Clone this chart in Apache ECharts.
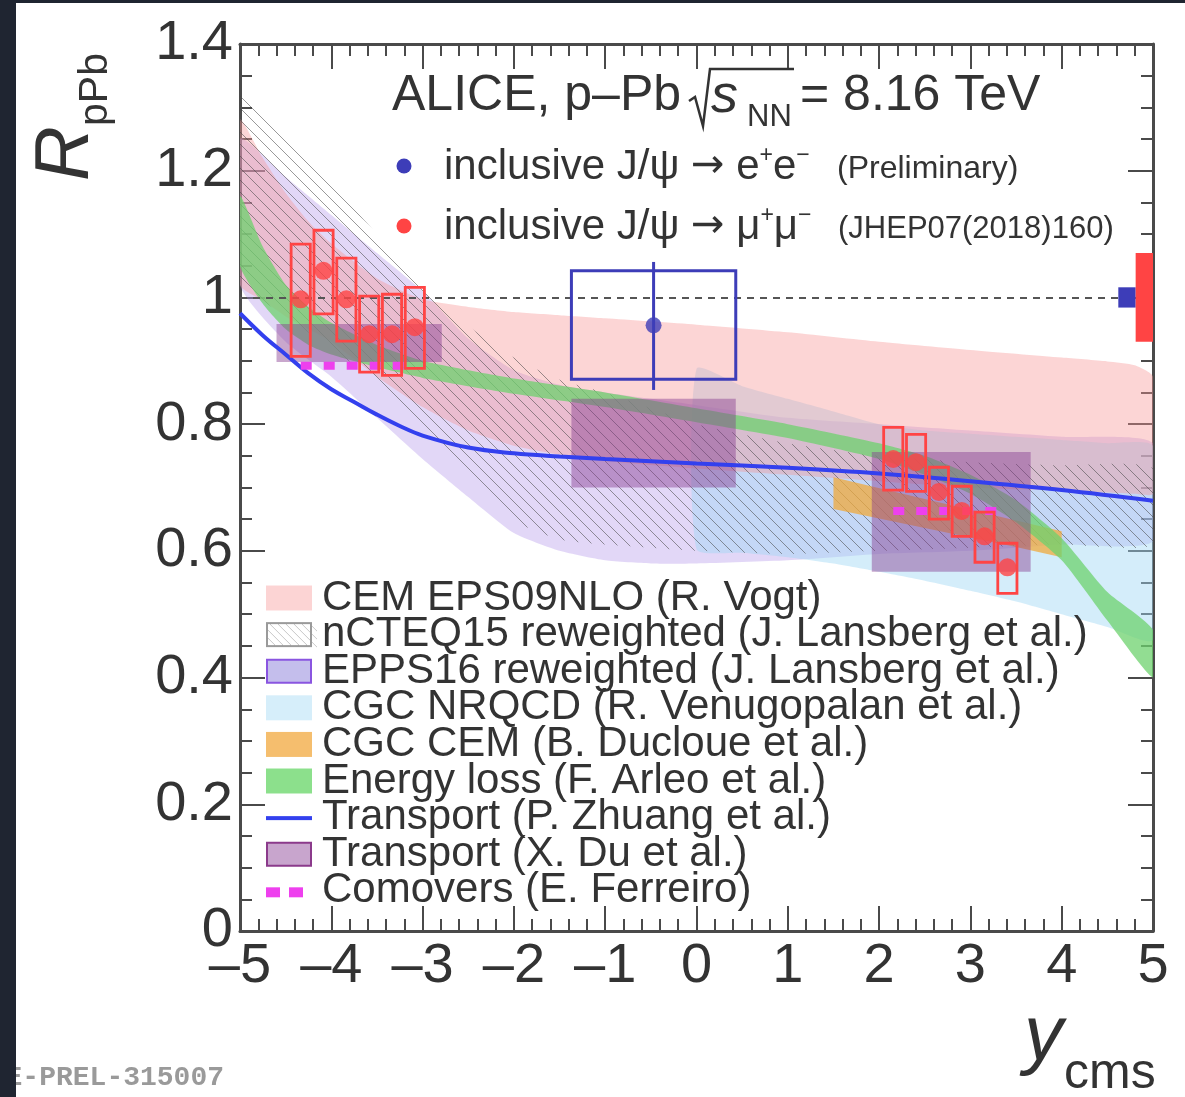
<!DOCTYPE html>
<html><head><meta charset="utf-8">
<script src="https://cdn.jsdelivr.net/npm/echarts@6/dist/echarts.min.js"></script>
<style>html,body{margin:0;padding:0;background:#fff}#c{width:1185px;height:1097px}</style>
</head><body><div id="c"></div>
<script>
// ---------------- DATA ----------------
// inclusive J/psi -> mu+mu- (JHEP07(2018)160)
const muBwdX     = [-4.335, -4.085, -3.835, -3.585, -3.335, -3.085];
const muBwdY     = [0.997, 1.042, 0.997, 0.942, 0.942, 0.953];
const muBwdSysLo = [0.907, 0.974, 0.931, 0.882, 0.877, 0.888];
const muBwdSysHi = [1.084, 1.106, 1.062, 1.002, 1.005, 1.016];
const muFwdX     = [2.155, 2.405, 2.655, 2.905, 3.155, 3.405];
const muFwdY     = [0.745, 0.740, 0.693, 0.663, 0.623, 0.574];
const muFwdSysLo = [0.696, 0.694, 0.650, 0.623, 0.582, 0.533];
const muFwdSysHi = [0.795, 0.784, 0.732, 0.702, 0.661, 0.612];
const muBoxHalfWidth = 0.105;
// inclusive J/psi -> e+e- (Preliminary)
const eeX = [-0.47];
const eeY = [0.956];
const eeStatLo = [0.854];
const eeStatHi = [1.056];
const eeSysLo = [0.871];
const eeSysHi = [1.042];
const eeBinLo = [-1.37];
const eeBinHi = [0.43];
// global uncertainties (boxes at unity): e+e-, mu+mu-
const globX0 = [4.62, 4.81];
const globX1 = [4.81, 5.0];
const globLo = [0.984, 0.930];
const globHi = [1.016, 1.070];

// CEM EPS09NLO (R. Vogt)
const cemX  = [-5, -4.75, -4.5, -4.25, -4, -3.5, -3, -2.5, -2, -1.5, -1, 0, 1, 2, 3, 4, 4.5, 4.8, 5];
const cemHi = [1.28, 1.22, 1.165, 1.12, 1.085, 1.03, 0.997, 0.985, 0.977, 0.972, 0.967, 0.957, 0.945, 0.93, 0.917, 0.905, 0.899, 0.893, 0.875];
const cemLo = [1.02, 0.995, 0.97, 0.95, 0.93, 0.875, 0.827, 0.79, 0.766, 0.752, 0.742, 0.73, 0.72, 0.71, 0.70, 0.695, 0.692, 0.69, 0.69];
// nCTEQ15 reweighted
const ncX  = [-5, -4.5, -4, -3.5, -3, -2.5, -2, -1.5, -1, -0.5, 0, 1, 2, 3, 4, 5];
const ncHi = [1.33, 1.25, 1.18, 1.10, 1.02, 0.955, 0.905, 0.87, 0.85, 0.825, 0.80, 0.77, 0.75, 0.74, 0.735, 0.73];
const ncLo = [1.03, 0.97, 0.92, 0.865, 0.79, 0.72, 0.648, 0.618, 0.61, 0.605, 0.60, 0.595, 0.60, 0.605, 0.61, 0.61];
// EPPS16 reweighted
const epX  = [-5, -4.5, -4, -3.5, -3, -2.5, -2, -1.5, -1, -0.5, 0, 1, 2, 3, 4, 5];
const epHi = [1.25, 1.19, 1.13, 1.07, 1.01, 0.935, 0.885, 0.862, 0.85, 0.84, 0.83, 0.81, 0.80, 0.79, 0.78, 0.77];
const epLo = [1.02, 0.93, 0.875, 0.81, 0.745, 0.685, 0.628, 0.60, 0.585, 0.58, 0.58, 0.585, 0.595, 0.60, 0.61, 0.615];
// CGC NRQCD
const cgX  = [0, 0.5, 1, 1.5, 2, 2.5, 3, 3.5, 4, 4.5, 5];
const cgHi = [0.887, 0.86, 0.84, 0.82, 0.80, 0.79, 0.785, 0.78, 0.775, 0.77, 0.765];
const cgLo = [0.603, 0.597, 0.59, 0.58, 0.567, 0.553, 0.537, 0.52, 0.50, 0.48, 0.46];
// CGC CEM
const ccX  = [1.5, 2.5, 3.5, 4.0];
const ccHi = [0.716, 0.682, 0.648, 0.631];
const ccLo = [0.666, 0.636, 0.606, 0.590];
// Energy loss
const elX  = [-5, -4.75, -4.5, -4.25, -4, -3.5, -3, -2.5, -2, -1, 0, 1, 2, 2.5, 3, 3.5, 4, 4.5, 5];
const elHi = [1.16, 1.08, 1.02, 0.985, 0.96, 0.925, 0.90, 0.885, 0.872, 0.85, 0.825, 0.80, 0.77, 0.75, 0.72, 0.68, 0.62, 0.535, 0.475];
const elLo = [1.05, 0.99, 0.95, 0.925, 0.91, 0.89, 0.873, 0.86, 0.848, 0.827, 0.803, 0.778, 0.745, 0.72, 0.69, 0.645, 0.585, 0.49, 0.40];
// Transport (P. Zhuang)
const zhX = [-5, -4.75, -4.5, -4.25, -4, -3.75, -3.5, -3.25, -3, -2.5, -2, -1.5, -1, 0, 1, 2, 3, 4, 5];
const zhY = [0.975, 0.94, 0.91, 0.88, 0.855, 0.835, 0.815, 0.797, 0.782, 0.763, 0.754, 0.749, 0.745, 0.738, 0.731, 0.722, 0.71, 0.696, 0.679];
// Transport (X. Du)
const duX0 = [-4.6, -1.37, 1.92];
const duX1 = [-2.79, 0.43, 3.66];
const duLo = [0.898, 0.70, 0.567];
const duHi = [0.958, 0.84, 0.756];
// Comovers (E. Ferreiro)
const coBwdY = [0.892, 0.892, 0.892, 0.892, 0.892, 0.892];
const coFwdY = [0.663, 0.663, 0.663, 0.663, 0.663, 0.663];

// ---------------- STYLE ----------------
const FONT = '"Liberation Sans", Arial, Helvetica, sans-serif';
const TXT = '#333333';
const AX = '#4a4a4a';
const C = {
  cem: 'rgba(248,150,150,0.40)',
  ep: 'rgba(180,150,235,0.38)',
  cg: 'rgba(160,215,245,0.45)',
  cc: 'rgba(240,170,60,0.75)',
  el: 'rgba(110,210,110,0.75)',
  du: 'rgba(135,60,145,0.45)',
  zh: '#3340ee',
  co: '#ee40ee',
  red: '#ff4444',
  blue: '#3d3db8'
};
const NAMES = ['CEM EPS09NLO (R. Vogt)', 'nCTEQ15 reweighted (J. Lansberg et al.)', 'EPPS16 reweighted (J. Lansberg et al.)',
  'CGC NRQCD (R. Venugopalan et al.)', 'CGC CEM (B. Ducloue et al.)', 'Energy loss (F. Arleo et al.)',
  'Transport (P. Zhuang et al.)', 'Transport (X. Du et al.)', 'Comovers (E. Ferreiro)'];

function hatchCanvas() {
  const s = 12;
  const c = document.createElement('canvas'); c.width = s; c.height = s;
  const g = c.getContext('2d');
  g.strokeStyle = 'rgba(70,70,70,0.55)'; g.lineWidth = 1;
  g.beginPath(); g.moveTo(-1, -1); g.lineTo(s + 1, s + 1); g.moveTo(-1, s - 1); g.lineTo(1, s + 1); g.moveTo(s - 1, -1); g.lineTo(s + 1, 1); g.stroke();
  return c;
}
function icon(draw) {
  const c = document.createElement('canvas'); c.width = 51; c.height = 27;
  const g = c.getContext('2d'); draw(g); return 'image://' + c.toDataURL();
}
const icons = [
  icon(g => { g.fillStyle = 'rgb(252,212,212)'; g.fillRect(0, 1, 46, 25); }),
  icon(g => { g.fillStyle = '#fff'; g.fillRect(0, 1, 46, 25); g.strokeStyle = '#c8c8c8'; g.lineWidth = 1;
    for (let k = -30; k < 50; k += 8) { g.beginPath(); g.moveTo(k, 1); g.lineTo(k + 25, 26); g.stroke(); }
    g.strokeStyle = '#9a9a9a'; g.lineWidth = 2; g.strokeRect(1, 2, 44, 23); }),
  icon(g => { g.fillStyle = 'rgb(196,190,236)'; g.fillRect(0, 1, 46, 25); g.strokeStyle = '#8a55e0'; g.lineWidth = 2; g.strokeRect(1, 2, 44, 23); }),
  icon(g => { g.fillStyle = 'rgb(214,238,250)'; g.fillRect(0, 1, 46, 25); }),
  icon(g => { g.fillStyle = 'rgb(245,190,110)'; g.fillRect(0, 1, 46, 25); }),
  icon(g => { g.fillStyle = 'rgb(140,224,140)'; g.fillRect(0, 1, 46, 25); }),
  icon(g => { g.fillStyle = C.zh; g.fillRect(0, 12, 46, 4); }),
  icon(g => { g.fillStyle = 'rgb(200,165,205)'; g.fillRect(0, 1, 46, 25); g.strokeStyle = '#8b3a8b'; g.lineWidth = 2; g.strokeRect(1, 2, 44, 23); }),
  icon(g => { g.fillStyle = C.co; g.fillRect(0, 10, 14, 10); g.fillRect(23, 10, 14, 10); })
];

// ---------------- SERIES BUILDERS ----------------
function bandSeries(name, xs, lo, hi, style, z, smooth) {
  return {
    name, type: 'custom', z, silent: true, clip: true,
    data: xs.map((x, i) => [x, lo[i], hi[i]]),
    encode: { x: 0, y: [1, 2] },
    renderItem(params, api) {
      if (params.dataIndex !== 0) return null;
      const pts = [];
      for (let i = 0; i < xs.length; i++) pts.push(api.coord([xs[i], hi[i]]));
      for (let i = xs.length - 1; i >= 0; i--) pts.push(api.coord([xs[i], lo[i]]));
      return { type: 'polygon', shape: { points: pts, smooth: smooth || 0 }, style: Object.assign({}, style) };
    }
  };
}
function rectSeries(name, x0, x1, lo, hi, style, z) {
  return {
    name, type: 'custom', z, silent: true,
    data: x0.map((v, i) => [v, x1[i], lo[i], hi[i]]),
    encode: { x: [0, 1], y: [2, 3] },
    renderItem(params, api) {
      const a = api.coord([api.value(0), api.value(3)]);
      const b = api.coord([api.value(1), api.value(2)]);
      const st = Object.assign({}, Array.isArray(style) ? style[params.dataIndex] : style);
      return { type: 'rect', shape: { x: a[0], y: a[1], width: b[0] - a[0], height: b[1] - a[1] }, style: st };
    }
  };
}
function sysBoxes(name, xs, lo, hi, color, z) {
  return rectSeries(name, xs.map(x => x - muBoxHalfWidth), xs.map(x => x + muBoxHalfWidth), lo, hi,
    { fill: 'none', stroke: color, lineWidth: 2.8 }, z);
}

const axisCommon = {
  axisLine: { show: true, onZero: false, lineStyle: { color: AX, width: 3 } },
  axisTick: { show: true, inside: true, length: 25, lineStyle: { color: AX, width: 2 } },
  splitLine: { show: false }
};
const xLabel = { fontSize: 56, fontFamily: FONT, color: TXT, margin: 8,
  formatter: v => v < 0 ? '\u2013' + Math.abs(v) : String(v) };
const yLabel = { fontSize: 56, fontFamily: FONT, color: TXT, margin: 7,
  formatter: v => String(Math.round(v * 10) / 10) };
const supRich = { a: { fontSize: 42, fontFamily: FONT, fill: TXT, lineHeight: 46 },
  r: { fontSize: 40, fontFamily: '"DejaVu Sans", sans-serif', fill: TXT, lineHeight: 46 },
  s: { fontSize: 23, fontFamily: FONT, fill: TXT, verticalAlign: 'top', lineHeight: 26 } };

const chart = echarts.init(document.getElementById('c'), null, { renderer: 'canvas' });
chart.setOption({
  animation: false,
  backgroundColor: '#ffffff',
  grid: { left: 240, right: 32, top: 44, bottom: 166, outerBoundsMode: 'none' },
  xAxis: [
    Object.assign({ type: 'value', min: -5, max: 5, interval: 1, position: 'bottom', axisLabel: xLabel,
      minorTick: { show: true, splitNumber: 5, length: 12, lineStyle: { color: AX, width: 2 } } }, axisCommon),
    Object.assign({ type: 'value', min: -5, max: 5, interval: 1, position: 'top', axisLabel: { show: false },
      minorTick: { show: true, splitNumber: 5, length: 12, lineStyle: { color: AX, width: 2 } } }, axisCommon)
  ],
  yAxis: [
    Object.assign({ type: 'value', min: 0, max: 1.4, interval: 0.2, position: 'left', axisLabel: yLabel,
      minorTick: { show: true, splitNumber: 4, length: 12, lineStyle: { color: AX, width: 2 } } }, axisCommon),
    Object.assign({ type: 'value', min: 0, max: 1.4, interval: 0.2, position: 'right', axisLabel: { show: false },
      minorTick: { show: true, splitNumber: 4, length: 12, lineStyle: { color: AX, width: 2 } } }, axisCommon)
  ],
  legend: {
    orient: 'vertical', left: 266, top: 577, padding: 0, itemGap: -5.4,
    itemWidth: 51, itemHeight: 27, selectedMode: false,
    textStyle: { fontSize: 42, fontFamily: FONT, color: TXT },
    data: NAMES.map((n, i) => ({ name: n, icon: icons[i] }))
  },
  series: [
    bandSeries(NAMES[2], epX, epLo, epHi, { fill: C.ep }, 1, 0.2),
    bandSeries(NAMES[3], cgX, cgLo, cgHi, { fill: C.cg }, 1.1, 0.2),
    bandSeries(NAMES[0], cemX, cemLo, cemHi, { fill: C.cem }, 1.2, 0.2),
    bandSeries(NAMES[1], ncX, ncLo, ncHi, { fill: { image: hatchCanvas(), repeat: 'repeat' } }, 1.3, 0.2),
    bandSeries(NAMES[4], ccX, ccLo, ccHi, { fill: C.cc }, 1.4, 0),
    bandSeries(NAMES[5], elX, elLo, elHi, { fill: C.el }, 1.5, 0.2),
    rectSeries(NAMES[7], duX0, duX1, duLo, duHi, { fill: C.du }, 1.6),
    { name: 'unity', type: 'line', data: [], z: 2, silent: true,
      markLine: { silent: true, symbol: ['none', 'none'], label: { show: false },
        lineStyle: { color: '#555', width: 2, type: [7, 6] }, data: [{ yAxis: 1 }] } },
    { name: NAMES[6], type: 'line', smooth: 0.4, showSymbol: false, silent: true, z: 3,
      data: zhX.map((x, i) => [x, zhY[i]]), lineStyle: { color: C.zh, width: 4 } },
    { name: NAMES[8], type: 'line', showSymbol: false, silent: true, z: 4,
      data: muBwdX.map((x, i) => [x, coBwdY[i]]), lineStyle: { color: C.co, width: 8, type: [11, 12], cap: 'butt' } },
    { name: NAMES[8], type: 'line', showSymbol: false, silent: true, z: 4,
      data: muFwdX.map((x, i) => [x, coFwdY[i]]), lineStyle: { color: C.co, width: 8, type: [11, 12], cap: 'butt' } },
    // data
    rectSeries('global uncertainty', globX0, globX1, globLo, globHi, [{ fill: C.blue }, { fill: C.red }], 5),
    rectSeries('e+e- syst', eeBinLo, eeBinHi, eeSysLo, eeSysHi, { fill: 'none', stroke: C.blue, lineWidth: 3 }, 6),
    { name: 'e+e- stat', type: 'custom', z: 6, silent: true,
      data: eeX.map((x, i) => [x, eeStatLo[i], eeStatHi[i]]), encode: { x: 0, y: [1, 2] },
      renderItem(p, api) { const a = api.coord([api.value(0), api.value(1)]); const b = api.coord([api.value(0), api.value(2)]);
        return { type: 'line', shape: { x1: a[0], y1: a[1], x2: b[0], y2: b[1] }, style: { stroke: C.blue, lineWidth: 3 } }; } },
    { name: 'inclusive J/psi -> e+e-', type: 'scatter', z: 7, silent: true, symbolSize: 16,
      data: eeX.map((x, i) => [x, eeY[i]]), itemStyle: { color: C.blue } },
    sysBoxes('mu bwd syst', muBwdX, muBwdSysLo, muBwdSysHi, C.red, 6),
    sysBoxes('mu fwd syst', muFwdX, muFwdSysLo, muFwdSysHi, C.red, 6),
    { name: 'inclusive J/psi -> mu+mu-', type: 'scatter', z: 7, silent: true, symbolSize: 18,
      data: muBwdX.map((x, i) => [x, muBwdY[i]]).concat(muFwdX.map((x, i) => [x, muFwdY[i]])), itemStyle: { color: C.red } }
  ],
  graphic: [
    // header
    { type: 'text', x: 392, y: 96, z: 50, style: { text: 'ALICE, p\u2013Pb', fontSize: 50, fontFamily: FONT, fill: TXT, align: 'left', verticalAlign: 'middle' } },
    { type: 'polyline', z: 50, shape: { points: [[689, 101], [695, 97], [703, 126], [710, 69], [794, 69]] }, style: { stroke: TXT, lineWidth: 2.5, fill: null } },
    { type: 'text', x: 711, y: 97, z: 50, style: { text: 's', fontSize: 54, fontStyle: 'italic', fontFamily: FONT, fill: TXT, align: 'left', verticalAlign: 'middle' } },
    { type: 'text', x: 747, y: 117, z: 50, style: { text: 'NN', fontSize: 31, fontFamily: FONT, fill: TXT, align: 'left', verticalAlign: 'middle' } },
    { type: 'text', x: 800, y: 96, z: 50, style: { text: '= 8.16 TeV', fontSize: 50, fontFamily: FONT, fill: TXT, align: 'left', verticalAlign: 'middle' } },
    // data legend
    { type: 'circle', z: 50, shape: { cx: 404, cy: 166, r: 7.5 }, style: { fill: C.blue } },
    { type: 'circle', z: 50, shape: { cx: 404, cy: 226, r: 7.5 }, style: { fill: C.red } },
    { type: 'text', x: 444, y: 167, z: 50, style: { text: '{a|inclusive J/\u03c8 }{r|\u2192}{a| e}{s|+}{a|e}{s|\u2212}', fill: TXT,
      rich: supRich, align: 'left', verticalAlign: 'middle' } },
    { type: 'text', x: 837, y: 169, z: 50, style: { text: '(Preliminary)', fontSize: 32, fontFamily: FONT, fill: TXT, align: 'left', verticalAlign: 'middle' } },
    { type: 'text', x: 444, y: 227, z: 50, style: { text: '{a|inclusive J/\u03c8 }{r|\u2192}{a| \u03bc}{s|+}{a|\u03bc}{s|\u2212}', fill: TXT,
      rich: supRich, align: 'left', verticalAlign: 'middle' } },
    { type: 'text', x: 838, y: 229, z: 50, style: { text: '(JHEP07(2018)160)', fontSize: 31, fontFamily: FONT, fill: TXT, align: 'left', verticalAlign: 'middle' } },
    // axis titles
    { type: 'text', x: 67, y: 181, rotation: Math.PI / 2, z: 50, style: { text: 'R', fontSize: 76, fontStyle: 'italic', fontFamily: FONT, fill: TXT, align: 'left', verticalAlign: 'middle' } },
    { type: 'text', x: 96, y: 126, rotation: Math.PI / 2, z: 50, style: { text: 'pPb', fontSize: 41, fontFamily: FONT, fill: TXT, align: 'left', verticalAlign: 'middle' } },
    { type: 'text', x: 1024, y: 1038, z: 50, style: { text: 'y', fontSize: 78, fontStyle: 'italic', fontFamily: FONT, fill: TXT, align: 'left', verticalAlign: 'middle' } },
    { type: 'text', x: 1064, y: 1074, z: 50, style: { text: 'cms', fontSize: 50, fontFamily: FONT, fill: TXT, align: 'left', verticalAlign: 'middle' } },
    // watermark
    { type: 'text', x: 224, y: 1078, z: 50, style: { text: 'ALICE-PREL-315007', fontSize: 28, fontWeight: 'bold', fontFamily: '"Liberation Mono", "DejaVu Sans Mono", monospace', fill: '#9a9a9a', align: 'right', verticalAlign: 'middle' } },
    // page frame (dark border of the screenshot)
    { type: 'rect', z: 100, shape: { x: 0, y: 0, width: 16, height: 1097 }, style: { fill: '#1f2531' } },
    { type: 'rect', z: 100, shape: { x: 0, y: 0, width: 1185, height: 3 }, style: { fill: '#1f2531' } }
  ]
});
</script></body></html>
